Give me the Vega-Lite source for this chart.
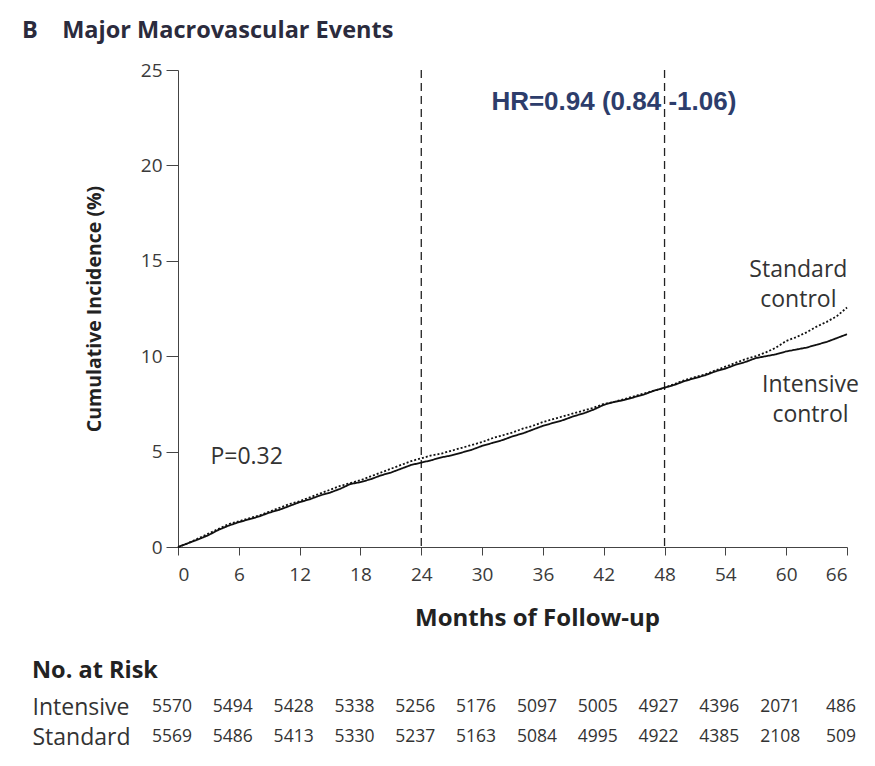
{
  "$schema": "https://vega.github.io/schema/vega-lite/v6.json",
  "background": "white",
  "padding": {"left": 22, "top": 18, "right": 5, "bottom": 5},
  "title": {"text": "B\u00a0\u00a0\u00a0\u00a0Major Macrovascular Events", "anchor": "start", "frame": "bounds", "dx": -10, "fontSize": 23.5, "font": "Open Sans", "fontWeight": "bold", "color": "#2b2b3d", "offset": 19},
  "config": {
    "view": {"stroke": null},
    "font": "Open Sans",
    "axis": {"labelFont": "Open Sans", "titleFont": "Open Sans", "labelColor": "#3a3a3a", "titleColor": "#222", "domainColor": "#444", "tickColor": "#444", "grid": false, "labelFontSize": 19, "titleFontWeight": "bold"}
  },
  "datasets": {
    "curves": [
      {"month": 0, "pct": 0, "group": "Intensive"},
      {"month": 1, "pct": 0.2, "group": "Intensive"},
      {"month": 2, "pct": 0.4, "group": "Intensive"},
      {"month": 3, "pct": 0.62, "group": "Intensive"},
      {"month": 4, "pct": 0.9, "group": "Intensive"},
      {"month": 5, "pct": 1.12, "group": "Intensive"},
      {"month": 6, "pct": 1.3, "group": "Intensive"},
      {"month": 7, "pct": 1.45, "group": "Intensive"},
      {"month": 8, "pct": 1.6, "group": "Intensive"},
      {"month": 9, "pct": 1.8, "group": "Intensive"},
      {"month": 10, "pct": 1.95, "group": "Intensive"},
      {"month": 11, "pct": 2.15, "group": "Intensive"},
      {"month": 12, "pct": 2.35, "group": "Intensive"},
      {"month": 13, "pct": 2.5, "group": "Intensive"},
      {"month": 14, "pct": 2.7, "group": "Intensive"},
      {"month": 15, "pct": 2.85, "group": "Intensive"},
      {"month": 16, "pct": 3.05, "group": "Intensive"},
      {"month": 17, "pct": 3.3, "group": "Intensive"},
      {"month": 18, "pct": 3.4, "group": "Intensive"},
      {"month": 19, "pct": 3.55, "group": "Intensive"},
      {"month": 20, "pct": 3.75, "group": "Intensive"},
      {"month": 21, "pct": 3.9, "group": "Intensive"},
      {"month": 22, "pct": 4.1, "group": "Intensive"},
      {"month": 23, "pct": 4.3, "group": "Intensive"},
      {"month": 24, "pct": 4.42, "group": "Intensive"},
      {"month": 25, "pct": 4.55, "group": "Intensive"},
      {"month": 26, "pct": 4.7, "group": "Intensive"},
      {"month": 27, "pct": 4.8, "group": "Intensive"},
      {"month": 28, "pct": 4.95, "group": "Intensive"},
      {"month": 29, "pct": 5.1, "group": "Intensive"},
      {"month": 30, "pct": 5.3, "group": "Intensive"},
      {"month": 31, "pct": 5.45, "group": "Intensive"},
      {"month": 32, "pct": 5.6, "group": "Intensive"},
      {"month": 33, "pct": 5.8, "group": "Intensive"},
      {"month": 34, "pct": 5.95, "group": "Intensive"},
      {"month": 35, "pct": 6.15, "group": "Intensive"},
      {"month": 36, "pct": 6.35, "group": "Intensive"},
      {"month": 37, "pct": 6.5, "group": "Intensive"},
      {"month": 38, "pct": 6.65, "group": "Intensive"},
      {"month": 39, "pct": 6.85, "group": "Intensive"},
      {"month": 40, "pct": 7.0, "group": "Intensive"},
      {"month": 41, "pct": 7.2, "group": "Intensive"},
      {"month": 42, "pct": 7.45, "group": "Intensive"},
      {"month": 43, "pct": 7.6, "group": "Intensive"},
      {"month": 44, "pct": 7.7, "group": "Intensive"},
      {"month": 45, "pct": 7.85, "group": "Intensive"},
      {"month": 46, "pct": 8.0, "group": "Intensive"},
      {"month": 47, "pct": 8.2, "group": "Intensive"},
      {"month": 48, "pct": 8.35, "group": "Intensive"},
      {"month": 49, "pct": 8.5, "group": "Intensive"},
      {"month": 50, "pct": 8.7, "group": "Intensive"},
      {"month": 51, "pct": 8.85, "group": "Intensive"},
      {"month": 52, "pct": 9.0, "group": "Intensive"},
      {"month": 53, "pct": 9.2, "group": "Intensive"},
      {"month": 54, "pct": 9.35, "group": "Intensive"},
      {"month": 55, "pct": 9.55, "group": "Intensive"},
      {"month": 56, "pct": 9.7, "group": "Intensive"},
      {"month": 57, "pct": 9.9, "group": "Intensive"},
      {"month": 58, "pct": 10.0, "group": "Intensive"},
      {"month": 59, "pct": 10.1, "group": "Intensive"},
      {"month": 60, "pct": 10.25, "group": "Intensive"},
      {"month": 61, "pct": 10.35, "group": "Intensive"},
      {"month": 62, "pct": 10.45, "group": "Intensive"},
      {"month": 63, "pct": 10.6, "group": "Intensive"},
      {"month": 64, "pct": 10.75, "group": "Intensive"},
      {"month": 65, "pct": 10.95, "group": "Intensive"},
      {"month": 66, "pct": 11.15, "group": "Intensive"},
      {"month": 0, "pct": 0, "group": "Standard"},
      {"month": 1, "pct": 0.2, "group": "Standard"},
      {"month": 2, "pct": 0.45, "group": "Standard"},
      {"month": 3, "pct": 0.7, "group": "Standard"},
      {"month": 4, "pct": 0.95, "group": "Standard"},
      {"month": 5, "pct": 1.2, "group": "Standard"},
      {"month": 6, "pct": 1.35, "group": "Standard"},
      {"month": 7, "pct": 1.5, "group": "Standard"},
      {"month": 8, "pct": 1.65, "group": "Standard"},
      {"month": 9, "pct": 1.85, "group": "Standard"},
      {"month": 10, "pct": 2.05, "group": "Standard"},
      {"month": 11, "pct": 2.25, "group": "Standard"},
      {"month": 12, "pct": 2.4, "group": "Standard"},
      {"month": 13, "pct": 2.6, "group": "Standard"},
      {"month": 14, "pct": 2.8, "group": "Standard"},
      {"month": 15, "pct": 3.0, "group": "Standard"},
      {"month": 16, "pct": 3.2, "group": "Standard"},
      {"month": 17, "pct": 3.35, "group": "Standard"},
      {"month": 18, "pct": 3.5, "group": "Standard"},
      {"month": 19, "pct": 3.7, "group": "Standard"},
      {"month": 20, "pct": 3.9, "group": "Standard"},
      {"month": 21, "pct": 4.1, "group": "Standard"},
      {"month": 22, "pct": 4.3, "group": "Standard"},
      {"month": 23, "pct": 4.5, "group": "Standard"},
      {"month": 24, "pct": 4.65, "group": "Standard"},
      {"month": 25, "pct": 4.8, "group": "Standard"},
      {"month": 26, "pct": 4.9, "group": "Standard"},
      {"month": 27, "pct": 5.05, "group": "Standard"},
      {"month": 28, "pct": 5.2, "group": "Standard"},
      {"month": 29, "pct": 5.35, "group": "Standard"},
      {"month": 30, "pct": 5.5, "group": "Standard"},
      {"month": 31, "pct": 5.7, "group": "Standard"},
      {"month": 32, "pct": 5.85, "group": "Standard"},
      {"month": 33, "pct": 6.0, "group": "Standard"},
      {"month": 34, "pct": 6.2, "group": "Standard"},
      {"month": 35, "pct": 6.35, "group": "Standard"},
      {"month": 36, "pct": 6.55, "group": "Standard"},
      {"month": 37, "pct": 6.7, "group": "Standard"},
      {"month": 38, "pct": 6.85, "group": "Standard"},
      {"month": 39, "pct": 7.0, "group": "Standard"},
      {"month": 40, "pct": 7.15, "group": "Standard"},
      {"month": 41, "pct": 7.3, "group": "Standard"},
      {"month": 42, "pct": 7.5, "group": "Standard"},
      {"month": 43, "pct": 7.6, "group": "Standard"},
      {"month": 44, "pct": 7.75, "group": "Standard"},
      {"month": 45, "pct": 7.9, "group": "Standard"},
      {"month": 46, "pct": 8.05, "group": "Standard"},
      {"month": 47, "pct": 8.2, "group": "Standard"},
      {"month": 48, "pct": 8.35, "group": "Standard"},
      {"month": 49, "pct": 8.55, "group": "Standard"},
      {"month": 50, "pct": 8.75, "group": "Standard"},
      {"month": 51, "pct": 8.9, "group": "Standard"},
      {"month": 52, "pct": 9.05, "group": "Standard"},
      {"month": 53, "pct": 9.25, "group": "Standard"},
      {"month": 54, "pct": 9.45, "group": "Standard"},
      {"month": 55, "pct": 9.65, "group": "Standard"},
      {"month": 56, "pct": 9.85, "group": "Standard"},
      {"month": 57, "pct": 10.0, "group": "Standard"},
      {"month": 58, "pct": 10.2, "group": "Standard"},
      {"month": 59, "pct": 10.45, "group": "Standard"},
      {"month": 60, "pct": 10.8, "group": "Standard"},
      {"month": 61, "pct": 11.0, "group": "Standard"},
      {"month": 62, "pct": 11.25, "group": "Standard"},
      {"month": 63, "pct": 11.55, "group": "Standard"},
      {"month": 64, "pct": 11.8, "group": "Standard"},
      {"month": 65, "pct": 12.1, "group": "Standard"},
      {"month": 66, "pct": 12.55, "group": "Standard"}
    ],
    "atrisk": [
      {"month": 0, "group": "Intensive", "n": 5570},
      {"month": 6, "group": "Intensive", "n": 5494},
      {"month": 12, "group": "Intensive", "n": 5428},
      {"month": 18, "group": "Intensive", "n": 5338},
      {"month": 24, "group": "Intensive", "n": 5256},
      {"month": 30, "group": "Intensive", "n": 5176},
      {"month": 36, "group": "Intensive", "n": 5097},
      {"month": 42, "group": "Intensive", "n": 5005},
      {"month": 48, "group": "Intensive", "n": 4927},
      {"month": 54, "group": "Intensive", "n": 4396},
      {"month": 60, "group": "Intensive", "n": 2071},
      {"month": 66, "group": "Intensive", "n": 486},
      {"month": 0, "group": "Standard", "n": 5569},
      {"month": 6, "group": "Standard", "n": 5486},
      {"month": 12, "group": "Standard", "n": 5413},
      {"month": 18, "group": "Standard", "n": 5330},
      {"month": 24, "group": "Standard", "n": 5237},
      {"month": 30, "group": "Standard", "n": 5163},
      {"month": 36, "group": "Standard", "n": 5084},
      {"month": 42, "group": "Standard", "n": 4995},
      {"month": 48, "group": "Standard", "n": 4922},
      {"month": 54, "group": "Standard", "n": 4385},
      {"month": 60, "group": "Standard", "n": 2108},
      {"month": 66, "group": "Standard", "n": 509}
    ]
  },
  "spacing": 28,
  "vconcat": [
    {
      "width": 669,
      "height": 477,
      "layer": [
        {
          "data": {"values": [{"month": 24}, {"month": 48}]},
          "mark": {"type": "rule", "strokeDash": [8, 5], "color": "#222", "strokeWidth": 1.3},
          "encoding": {
            "x": {"field": "month", "type": "quantitative", "scale": {"domain": [0, 66], "nice": false}, "axis": {"values": [0, 6, 12, 18, 24, 30, 36, 42, 48, 54, 60, 66], "title": "Months of Follow-up", "titleFontSize": 24, "tickSize": 8, "labelPadding": 10, "titlePadding": 22, "titleX": 359, "titleAlign": "center"}}
          }
        },
        {
          "data": {"name": "curves"},
          "mark": {"type": "line", "color": "#111", "strokeWidth": 1.8},
          "encoding": {
            "x": {"field": "month", "type": "quantitative"},
            "y": {"field": "pct", "type": "quantitative", "scale": {"domain": [0, 25], "nice": false}, "axis": {"values": [0, 5, 10, 15, 20, 25], "title": "Cumulative Incidence (%)", "titleFontSize": 19.5, "tickSize": 12, "labelPadding": 4, "titlePadding": 36}},
            "strokeDash": {"field": "group", "type": "nominal", "scale": {"domain": ["Intensive", "Standard"], "range": [[1, 0], [2, 2]]}, "legend": null}
          }
        },
        {
          "data": {"values": [{"label": "HR=0.94 (0.84 -1.06)", "month": 43.0, "pct": 23.3}]},
          "mark": {"type": "text", "font": "Liberation Sans", "fontWeight": "bold", "fontSize": 26, "color": "#2d3d6b", "align": "center", "baseline": "middle"},
          "encoding": {"x": {"field": "month", "type": "quantitative"}, "y": {"field": "pct", "type": "quantitative"}, "text": {"field": "label"}}
        },
        {
          "data": {"values": [{"label": "P=0.32", "month": 3.2, "pct": 4.7}]},
          "mark": {"type": "text", "fontSize": 23, "color": "#333", "align": "left", "baseline": "middle"},
          "encoding": {"x": {"field": "month", "type": "quantitative"}, "y": {"field": "pct", "type": "quantitative"}, "text": {"field": "label"}}
        },
        {
          "data": {"values": [{"label": "Standard\ncontrol", "month": 61.2, "pct": 14.5}, {"label": "Intensive\ncontrol", "month": 62.4, "pct": 8.5}]},
          "mark": {"type": "text", "fontSize": 23, "color": "#333", "align": "center", "baseline": "middle", "lineBreak": "\n", "lineHeight": 30},
          "encoding": {"x": {"field": "month", "type": "quantitative"}, "y": {"field": "pct", "type": "quantitative"}, "text": {"field": "label"}}
        }
      ]
    },
    {
      "width": 669,
      "height": 60,
      "title": {"text": "No. at Risk", "anchor": "start", "frame": "bounds", "fontSize": 23.5, "fontWeight": "bold", "color": "#222", "offset": 10},
      "data": {"name": "atrisk"},
      "mark": {"type": "text", "font": "Open Sans", "fontSize": 17.5, "color": "#333", "dx": -6},
      "encoding": {
        "x": {"field": "month", "type": "quantitative", "scale": {"domain": [0, 66], "nice": false}, "axis": null},
        "y": {"field": "group", "type": "ordinal", "sort": ["Intensive", "Standard"], "scale": {"paddingInner": 0, "paddingOuter": 0}, "axis": {"title": null, "domain": false, "ticks": false, "labelAlign": "left", "labelPadding": 146, "labelFont": "Open Sans", "labelFontSize": 23, "labelColor": "#333"}},
        "text": {"field": "n"}
      }
    }
  ]
}
